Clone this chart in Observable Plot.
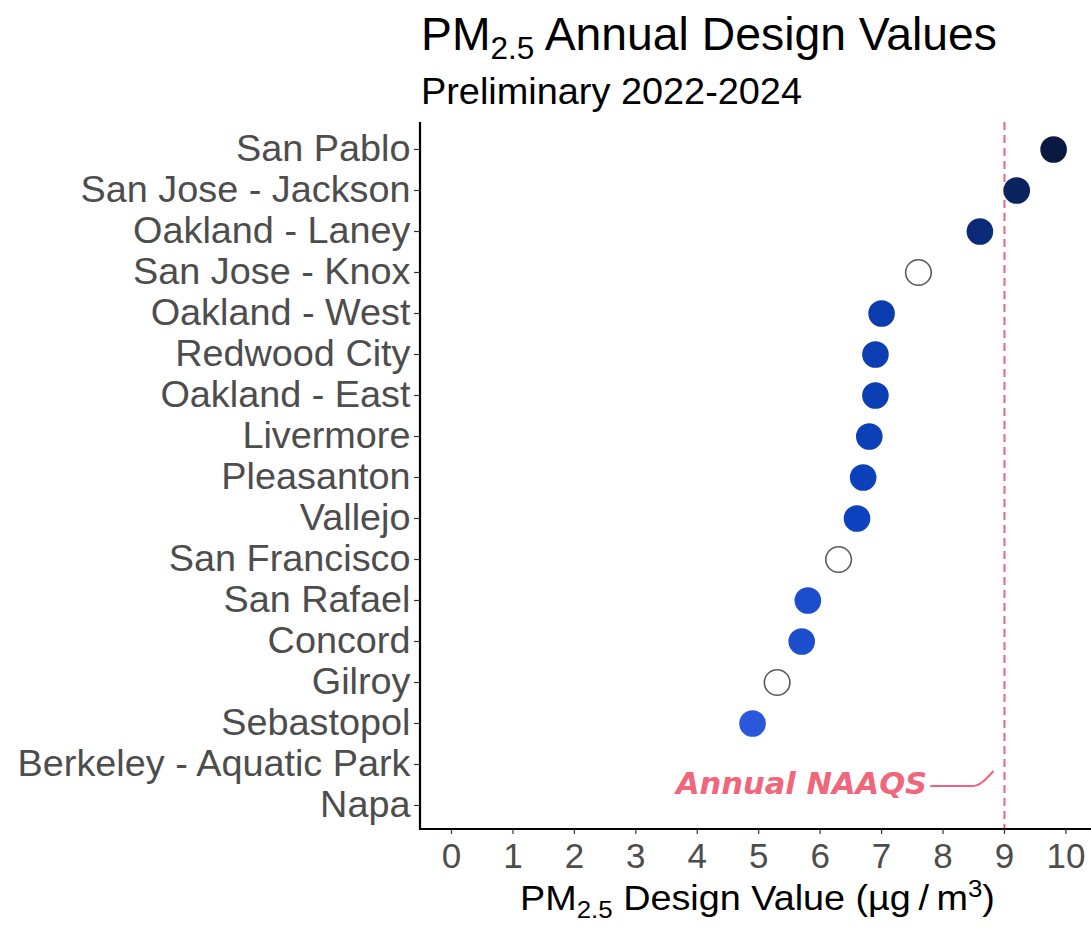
<!DOCTYPE html>
<html>
<head>
<meta charset="utf-8">
<script src="https://cdn.jsdelivr.net/npm/d3@7"></script>
<script src="https://cdn.jsdelivr.net/npm/@observablehq/plot@0.6"></script>
<style>
  html, body { margin: 0; padding: 0; background: #fff; }
  body { font-family: "Liberation Sans", Arial, Helvetica, sans-serif; }
  #wrap { position: relative; width: 1091px; height: 928px; overflow: hidden; background: #fff; }
  #head { position: relative; height: 110px; }
  .t { position: absolute; left: 421px; white-space: nowrap; transform-origin: 0 0; color: #000; }
  #title { top: 11.5px; font-size: 45.5px; line-height: 45.5px; }
  #title .sub { font-size: 31px; position: relative; top: 9px; }
  #subtitle { top: 73.3px; font-size: 37.5px; line-height: 37.5px; }
  #chart svg { display: block; }
</style>
</head>
<body>
<div id="wrap">
  <div id="head">
    <div id="title" class="t">PM<span class="sub">2.5</span> Annual Design Values</div>
    <div id="subtitle" class="t">Preliminary 2022-2024</div>
  </div>
  <div id="chart"></div>
</div>
<script>
// ---------------- data ----------------
const stations = [
  "San Pablo", "San Jose - Jackson", "Oakland - Laney", "San Jose - Knox",
  "Oakland - West", "Redwood City", "Oakland - East", "Livermore",
  "Pleasanton", "Vallejo", "San Francisco", "San Rafael", "Concord",
  "Gilroy", "Sebastopol", "Berkeley - Aquatic Park", "Napa"
];
const designValues = [9.8, 9.2, 8.6, 7.6, 7.0, 6.9, 6.9, 6.8, 6.7, 6.6, 6.3, 5.8, 5.7, 5.3, 4.9, null, null];
const incompleteData = [false, false, false, true, false, false, false, false, false, false, true, false, false, true, false, false, false];
const xTicks = [0, 1, 2, 3, 4, 5, 6, 7, 8, 9, 10];
const naaqsStandard = 9;
const naaqsLabel = "Annual NAAQS";

// ---------------- table ----------------
const rows = stations.map((s, i) => ({station: s, value: designValues[i], incomplete: incompleteData[i]}));
const filled = rows.filter(d => d.value != null && !d.incomplete);
const hollow = rows.filter(d => d.value != null && d.incomplete);

// annotation geometry (data units / pixel offsets from the bottom row)
const labelEndX = 7.74;
const connector = [[7.8, -19], [8.5, -19], [8.83, -34]];

function axisLines(index, scales, values, dims) {
  const g = d3.create("svg:g");
  const x0 = dims.marginLeft, x1 = dims.width - dims.marginRight;
  const y0 = dims.marginTop, y1 = dims.height - dims.marginBottom;
  g.append("path")
    .attr("d", `M${x0},${y0}V${y1}H${x1}`)
    .attr("fill", "none").attr("stroke", "#000").attr("stroke-width", 2.2);
  return g.node();
}

function connectorMark(index, scales, values, dims) {
  const base = scales.y(stations[stations.length - 1]);
  const line = d3.line().curve(d3.curveMonotoneX)
    .x(d => scales.x(d[0])).y(d => base + d[1]);
  const g = d3.create("svg:g");
  g.append("path").attr("d", line(connector))
    .attr("fill", "none").attr("stroke", "#f0637a").attr("stroke-width", 2);
  return g.node();
}

function xTitleMark(index, scales, values, dims) {
  const cx = (dims.marginLeft + dims.width - dims.marginRight) / 2 + 2;
  const g = d3.create("svg:g").attr("class", "xtitle")
    .attr("transform", `translate(${cx},${dims.height - 18})`);
  const t = g.append("text").attr("text-anchor", "middle")
    .attr("font-size", 35).attr("fill", "#000")
    .attr("font-family", "Liberation Sans, Arial, sans-serif");
  t.append("tspan").text("PM");
  t.append("tspan").attr("font-size", 24).attr("dy", 8).text("2.5");
  t.append("tspan").attr("dy", -8).text(" Design Value (\u00b5g\u2009/\u2009m");
  t.append("tspan").attr("font-size", 24).attr("dy", -13).text("3");
  t.append("tspan").attr("dy", 13).text(")");
  return g.node();
}

const chart = Plot.plot({
  width: 1091,
  height: 818,
  marginLeft: 420,
  marginRight: 0,
  marginTop: 12,
  marginBottom: 99,
  style: {background: "white", fontFamily: "Liberation Sans, Arial, sans-serif", overflow: "visible"},
  x: {domain: [0, 10], range: [451, 1065.4], label: null},
  y: {type: "point", domain: stations, range: [37, 696], padding: 0, label: null},
  color: {
    type: "linear",
    domain: [4.9, 6.6, 7.0, 8.6, 9.2, 9.8],
    range: ["#2b58db", "#0d43c0", "#0a3cae", "#0b2b78", "#0a2460", "#0b1842"],
    interpolate: "rgb"
  },
  marks: [
    Plot.ruleX([naaqsStandard], {stroke: "#f0637a", strokeWidth: 2, strokeDasharray: "8,5"}),
    axisLines,
    Plot.axisY({tickSize: 6, tickPadding: 4, fontSize: 36.5, fill: "#4d4d4d", stroke: "#333", strokeWidth: 1.2}),
    Plot.axisX({ticks: xTicks, tickSize: 5, tickPadding: 9, fontSize: 35, fill: "#4d4d4d", stroke: "#333", strokeWidth: 1.2}),
    Plot.dot(filled, {x: "value", y: "station", r: 13.3, fill: "value", stroke: "none"}),
    Plot.dot(hollow, {x: "value", y: "station", r: 12.8, fill: "white", stroke: "#5a5a5a", strokeWidth: 1.6}),
    Plot.text([naaqsLabel], {
      x: () => labelEndX, y: () => stations[stations.length - 1], text: d => d,
      dy: -21, textAnchor: "end", fontSize: 30.5, fontWeight: "bold", fontStyle: "italic",
      fontFamily: "DejaVu Sans, Verdana, sans-serif", fill: "#f0667b"
    }),
    connectorMark,
    xTitleMark
  ]
});

document.getElementById("chart").appendChild(chart);

// ---- fine width matching of text ----
function widen(el, target) {
  const w = el.getBoundingClientRect().width;
  if (w > 0) el.style.transform = `scaleX(${target / w})`;
}
widen(document.getElementById("title"), 576);
widen(document.getElementById("subtitle"), 381);

const yTexts = Array.from(chart.querySelectorAll('g[aria-label="y-axis tick label"] text'));
const longest = yTexts.find(t => t.textContent === "Berkeley - Aquatic Park");
if (longest) {
  const s = 393 / longest.getComputedTextLength();
  yTexts.forEach(t => {
    const tr = t.getAttribute("transform") || "";
    t.setAttribute("transform", tr + ` scale(${s},1)`);
  });
}
const xt = chart.querySelector(".xtitle");
if (xt) {
  const w = xt.querySelector("text").getBBox().width;
  xt.setAttribute("transform", xt.getAttribute("transform") + ` scale(${475 / w},1)`);
}
</script>
</body>
</html>
